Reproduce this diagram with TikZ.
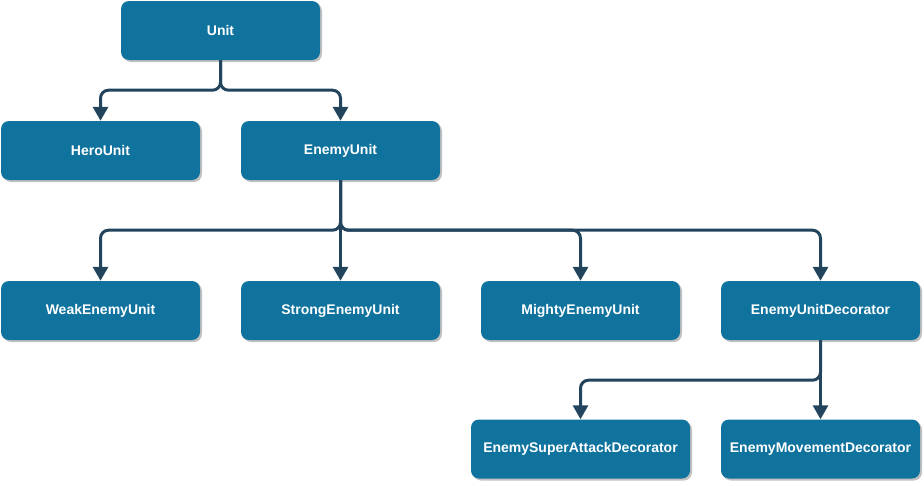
\documentclass[tikz,border=0pt]{standalone}
\usepackage{fontspec}
\setmainfont{Liberation Sans}
\usetikzlibrary{arrows.meta,shadows}
\definecolor{boxfill}{HTML}{10739E}
\definecolor{linecol}{HTML}{23445D}
\tikzset{
  unitbox/.style={draw=none, fill=boxfill, rounded corners=8pt, minimum height=59pt,
    minimum width=199pt, inner sep=0pt, text=white, font=\fontsize{14}{17}\selectfont\bfseries,
    drop shadow={shadow xshift=2pt, shadow yshift=-2pt, fill=black!40, opacity=0.6}},
  conn/.style={draw=linecol, line width=3pt, rounded corners=8pt,
    -{Triangle[width=15pt,length=14pt]}}
}
\begin{document}
\begin{tikzpicture}[x=1pt,y=-1pt]
\useasboundingbox (0,0) rectangle (924,485);
\node[unitbox] (u) at (220.5,30.5) {Unit};
\node[unitbox] (hero) at (100.5,150.5) {HeroUnit};
\node[unitbox] (enemy) at (340.5,150.5) {EnemyUnit};
\node[unitbox] (weak) at (100.5,310.5) {WeakEnemyUnit};
\node[unitbox] (strong) at (340.5,310.5) {StrongEnemyUnit};
\node[unitbox] (mighty) at (580.5,310.5) {MightyEnemyUnit};
\node[unitbox] (dec) at (820.5,310.5) {EnemyUnitDecorator};
\node[unitbox, minimum width=219pt] (sup) at (580.5,449) {EnemySuperAttackDecorator};
\node[unitbox] (mov) at (820.5,449) {EnemyMovementDecorator};

\draw[conn] (u.south) -- ++(0,30) -| (hero.north);
\draw[conn] (u.south) -- ++(0,30) -| (enemy.north);
\draw[conn] (enemy.south) -- ++(0,50) -| (weak.north);
\draw[conn] (enemy.south) -- (strong.north);
\draw[conn] (enemy.south) -- ++(0,50) -| (mighty.north);
\draw[conn] (enemy.south) -- ++(0,50) -| (dec.north);
\draw[conn] (dec.south) -- ++(0,40) -| (sup.north);
\draw[conn] (dec.south) -- (mov.north);
\end{tikzpicture}
\end{document}
